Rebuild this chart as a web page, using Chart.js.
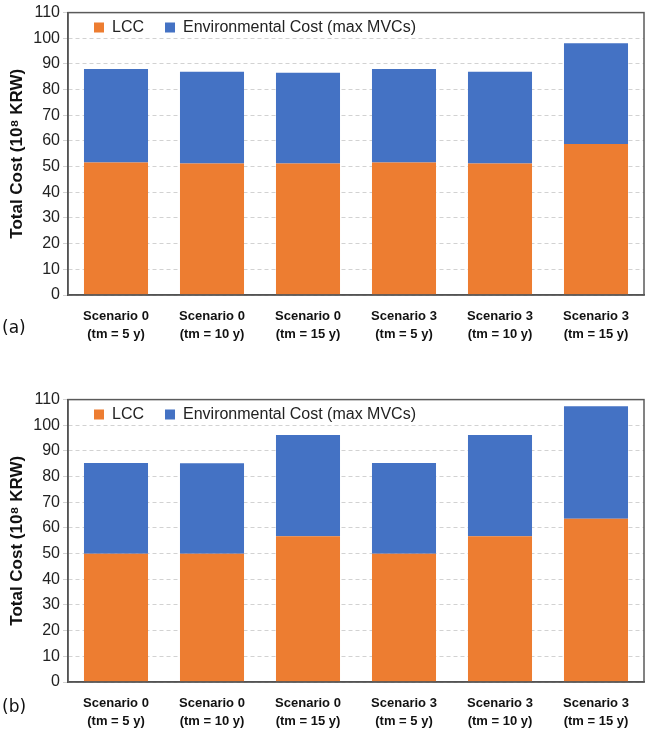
<!DOCTYPE html>
<html><head><meta charset="utf-8">
<script src="https://cdn.jsdelivr.net/npm/chart.js@4.4.1/dist/chart.umd.min.js"></script>
<style>
html,body{margin:0;padding:0;background:#fff;width:646px;height:731px;overflow:hidden;position:relative;}
canvas{position:absolute;left:0;}
#ca{top:0px}
#cb{top:387px}
.lab{position:absolute;left:2px;font:17px "DejaVu Sans";color:#111;line-height:20px;}
</style></head><body>
<canvas id="ca" width="646" height="344"></canvas>
<canvas id="cb" width="646" height="344"></canvas>
<div class="lab" style="top:317px">(a)</div>
<div class="lab" style="top:696px">(b)</div>
<script>
// ---- data ----
const categories = [
  ['Scenario 0', '(tm = 5 y)'],
  ['Scenario 0', '(tm = 10 y)'],
  ['Scenario 0', '(tm = 15 y)'],
  ['Scenario 3', '(tm = 5 y)'],
  ['Scenario 3', '(tm = 10 y)'],
  ['Scenario 3', '(tm = 15 y)']
];
const seriesNames = ['LCC', 'Environmental Cost (max MVCs)'];
// panel (a)
const lccA = [51.6, 51.2, 51.2, 51.6, 51.2, 58.8];
const envA = [36.4, 35.8, 35.4, 36.4, 35.8, 39.3];
// panel (b)
const lccB = [50.0, 50.0, 56.8, 50.0, 56.8, 63.6];
const envB = [35.3, 35.2, 39.4, 35.3, 39.4, 43.8];
const yMin = 0, yMax = 110, yStep = 10;
const yTitle = 'Total Cost (10\u2078 KRW)';

// ---- styles ----
const colors = ['#ED7D31', '#4472C4'];
const FONT = 'Liberation Sans, Arial, sans-serif';

const framePlugin = {
  id: 'frame',
  beforeUpdate(chart) {
    const lg = chart.legend;
    if (lg && !lg._zeroPatched) {
      const origFit = lg.fit.bind(lg);
      lg.fit = function () { origFit(); this.height = 0; };
      lg._zeroPatched = true;
    }
  },
  beforeDraw(chart) {
    const lg = chart.legend;
    if (lg) {
      lg.left = chart.chartArea.left + 5;
      lg.right = chart.chartArea.right;
      lg.top = chart.chartArea.top - 14;
      lg.bottom = chart.chartArea.top + 40;
      lg.width = lg.right - lg.left;
      lg.height = lg.bottom - lg.top;
    }
  },
  afterDatasetsDraw(chart) {
    const {ctx, chartArea: a} = chart;
    ctx.save();
    ctx.strokeStyle = '#5a5a5a';
    ctx.lineWidth = 1.5;
    ctx.strokeRect(a.left, a.top, a.right - a.left, a.bottom - a.top);
    ctx.restore();
  }
};

function makeChart(id, lcc, env) {
  return new Chart(document.getElementById(id), {
    type: 'bar',
    data: {
      labels: categories,
      datasets: [
        {label: seriesNames[0], data: lcc, backgroundColor: colors[0], borderWidth: 0},
        {label: seriesNames[1], data: env, backgroundColor: colors[1], borderWidth: 0}
      ]
    },
    options: {
      responsive: false,
      animation: false,
      devicePixelRatio: 1,
      layout: {padding: {top: 7, right: 2, left: 0, bottom: 0}},
      datasets: {bar: {categoryPercentage: 1.0, barPercentage: 0.667}},
      plugins: {
        tooltip: {enabled: false},
        legend: {
          position: 'top',
          align: 'start',
          labels: {
            boxWidth: 10, boxHeight: 10, padding: 21,
            color: '#222',
            font: {size: 16, family: FONT}
          }
        }
      },
      scales: {
        x: {
          stacked: true,
          grid: {display: false, drawTicks: false},
          border: {display: true, color: '#404040', width: 1.5},
          ticks: {
            color: '#111',
            padding: 12,
            maxRotation: 0,
            autoSkip: false,
            font: {size: 13, weight: 'bold', family: FONT, lineHeight: 1.4}
          },
          afterFit(s) { s.height = 49; }
        },
        y: {
          stacked: true,
          min: yMin, max: yMax,
          ticks: {
            stepSize: yStep,
            color: '#222',
            padding: 3,
            font: {size: 16, family: FONT}
          },
          grid: {color: '#d2d2d2', lineWidth: 1, tickLength: 5},
          border: {display: true, color: '#404040', width: 1.5, dash: [4, 3]},
          title: {
            display: true,
            text: yTitle,
            color: '#111',
            padding: {top: 7, bottom: 0},
            font: {size: 17, weight: 'bold', family: FONT}
          },
          afterFit(s) { s.width = 68; }
        }
      }
    },
    plugins: [framePlugin]
  });
}

makeChart('ca', lccA, envA);
makeChart('cb', lccB, envB);
</script>
</body></html>
